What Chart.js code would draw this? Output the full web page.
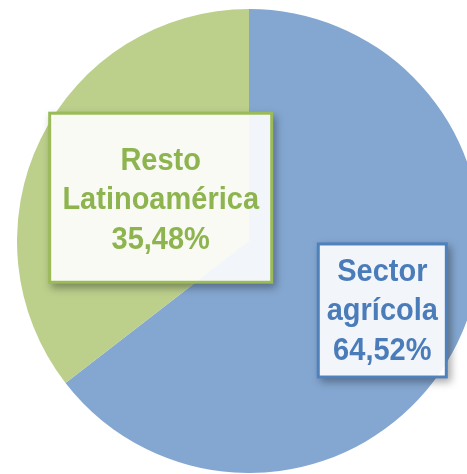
<!DOCTYPE html>
<html>
<head>
<meta charset="utf-8">
<script src="https://cdn.jsdelivr.net/npm/chart.js@4/dist/chart.umd.min.js"></script>
<style>
html,body{margin:0;padding:0;background:#fff;overflow:hidden;width:467px;height:474px;}
#wrap{position:absolute;left:17px;top:9px;width:464px;height:464px;}
</style>
</head>
<body>
<div id="wrap"><canvas id="c" width="464" height="464"></canvas></div>
<script>
const categories = ["Sector agrícola", "Resto Latinoamérica"];
const labelLines = [["Sector", "agrícola", "64,52%"], ["Resto", "Latinoamérica", "35,48%"]];
const values = [64.52, 35.48];
const sliceColors = ["#84A7D1", "#BCD08C"];
const borderColors = ["#4F81BD", "#9BBB59"];
const textColors = ["#4A7CB9", "#8DB44F"];

const boxLabels = {
  id: 'boxLabels',
  afterDatasetsDraw(chart, args, opts) {
    const ctx = chart.ctx;
    const meta = chart.getDatasetMeta(0);
    meta.data.forEach((arc, i) => {
      const p = arc.getProps(['x','y','startAngle','endAngle','outerRadius'], true);
      const mid = (p.startAngle + p.endAngle) / 2;
      const r = p.outerRadius * opts.frac[i];
      const cx = p.x + Math.cos(mid) * r;
      const cy = p.y + Math.sin(mid) * r + opts.dy[i];
      const w = opts.w[i], h = opts.h[i];
      const x0 = cx - w / 2, y0 = cy - h / 2;
      ctx.save();
      ctx.shadowColor = 'rgba(0,0,0,0.35)';
      ctx.shadowBlur = 8;
      ctx.shadowOffsetX = 3;
      ctx.shadowOffsetY = 4;
      ctx.fillStyle = borderColors[i];
      ctx.fillRect(x0, y0, w, h);
      ctx.restore();
      ctx.save();
      ctx.beginPath();
      ctx.rect(x0 + 3, y0 + 3, w - 6, h - 6);
      ctx.clip();
      ctx.fillStyle = '#ffffff';
      ctx.fillRect(x0, y0, w, h);
      meta.data.forEach((a, j) => {
        const q = a.getProps(['x','y','startAngle','endAngle','outerRadius'], true);
        ctx.beginPath();
        ctx.moveTo(q.x, q.y);
        ctx.arc(q.x, q.y, q.outerRadius, q.startAngle, q.endAngle);
        ctx.closePath();
        ctx.globalAlpha = 0.1;
        ctx.fillStyle = sliceColors[j];
        ctx.fill();
      });
      ctx.restore();
      ctx.save();
      ctx.fillStyle = textColors[i];
      ctx.font = 'bold 29px "Liberation Sans", Arial, sans-serif';
      ctx.textAlign = 'center';
      ctx.textBaseline = 'alphabetic';
      const lines = labelLines[i];
      const lh = 39.4;
      lines.forEach((t, k) => {
        const by = cy + opts.textDy[i] + (k - (lines.length - 1) / 2) * lh;
        ctx.save();
        ctx.translate(cx, by);
        ctx.scale(1, 1.06);
        ctx.fillText(t, 0, 0);
        ctx.restore();
      });
      ctx.restore();
    });
  }
};

new Chart(document.getElementById('c'), {
  type: 'pie',
  data: {
    labels: categories,
    datasets: [{
      data: values,
      backgroundColor: sliceColors,
      borderWidth: 0,
      hoverOffset: 0
    }]
  },
  options: {
    responsive: false,
    animation: false,
    layout: { padding: 0 },
    events: [],
    plugins: {
      legend: { display: false },
      tooltip: { enabled: false },
      boxLabels: {
        frac: [0.64, 0.424],
        dy: [4, 0],
        w: [131, 225],
        h: [136, 172],
        textDy: [10, 11.5]
      }
    }
  },
  plugins: [boxLabels]
});
</script>
</body>
</html>
